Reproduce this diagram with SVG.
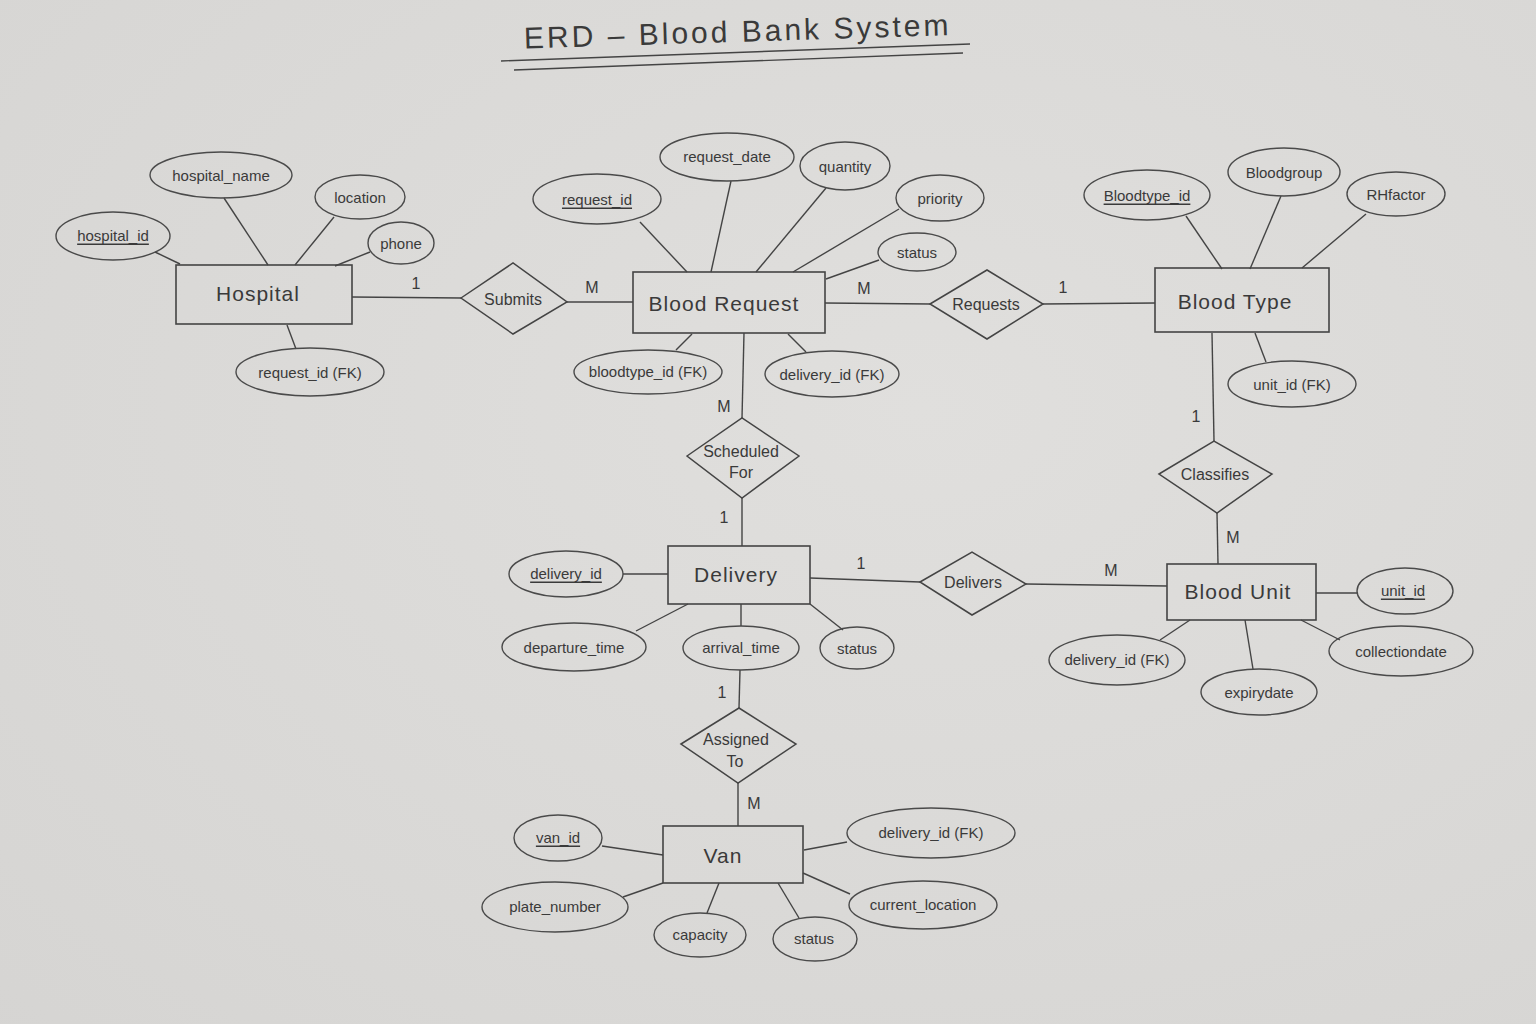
<svg xmlns="http://www.w3.org/2000/svg" width="1536" height="1024" viewBox="0 0 1536 1024">
<defs>
<style>
.bg{fill:#dcdbd9}
.ent{fill:none;stroke:#444;stroke-width:1.6}
.rel{fill:none;stroke:#444;stroke-width:1.5}
.att{fill:none;stroke:#4a4a4a;stroke-width:1.4}
.ln{stroke:#444;stroke-width:1.4;fill:none}
text{font-family:"Liberation Sans","DejaVu Sans",sans-serif;fill:#3a3a3a;text-anchor:middle;dominant-baseline:central}
.et{font-size:21px;letter-spacing:1px}
.rt{font-size:16px}
.at{font-size:15px}
.card{font-size:16px}
.pk{text-decoration:underline}
.title{font-size:30px;letter-spacing:3px;text-anchor:start}
</style>
<radialGradient id="paper" cx="0.6" cy="0.4" r="0.9">
<stop offset="0" stop-color="#e0dfdd"/>
<stop offset="1" stop-color="#d5d4d2"/>
</radialGradient>
</defs>
<rect width="1536" height="1024" fill="url(#paper)"/>

<g id="title">
<text class="title" x="524" y="38" transform="rotate(-1.8 524 38)">ERD – Blood Bank System</text>
<line class="ln" x1="501" y1="61" x2="970" y2="44"/>
<line class="ln" x1="514" y1="70" x2="963" y2="53"/>
</g>

<g id="connectors">
<!-- Hospital attrs -->
<line class="ln" x1="155" y1="252" x2="180" y2="264"/>
<line class="ln" x1="224" y1="198" x2="268" y2="265"/>
<line class="ln" x1="334" y1="217" x2="295" y2="265"/>
<line class="ln" x1="370" y1="252" x2="335" y2="266"/>
<line class="ln" x1="287" y1="325" x2="296" y2="349"/>
<!-- Hospital - Submits - Blood Request -->
<line class="ln" x1="352" y1="297" x2="461" y2="298"/>
<line class="ln" x1="567" y1="302" x2="633" y2="302"/>
<!-- Blood Request attrs -->
<line class="ln" x1="640" y1="222" x2="687" y2="272"/>
<line class="ln" x1="731" y1="181" x2="711" y2="272"/>
<line class="ln" x1="826" y1="188" x2="756" y2="272"/>
<line class="ln" x1="899" y1="209" x2="793" y2="272"/>
<line class="ln" x1="879" y1="260" x2="826" y2="279"/>
<line class="ln" x1="692" y1="334" x2="676" y2="350"/>
<line class="ln" x1="788" y1="334" x2="806" y2="352"/>
<!-- Blood Request - Requests - Blood Type -->
<line class="ln" x1="825" y1="303" x2="930" y2="304"/>
<line class="ln" x1="1043" y1="304" x2="1155" y2="303"/>
<!-- Blood Type attrs -->
<line class="ln" x1="1186" y1="216" x2="1222" y2="269"/>
<line class="ln" x1="1281" y1="196" x2="1250" y2="269"/>
<line class="ln" x1="1366" y1="214" x2="1302" y2="268"/>
<line class="ln" x1="1255" y1="333" x2="1266" y2="362"/>
<!-- Blood Type - Classifies - Blood Unit -->
<line class="ln" x1="1212" y1="333" x2="1214" y2="441"/>
<line class="ln" x1="1217" y1="513" x2="1218" y2="564"/>
<!-- Blood Unit attrs -->
<line class="ln" x1="1316" y1="593" x2="1357" y2="593"/>
<line class="ln" x1="1301" y1="620" x2="1340" y2="640"/>
<line class="ln" x1="1245" y1="620" x2="1253" y2="669"/>
<line class="ln" x1="1190" y1="620" x2="1160" y2="640"/>
<!-- Blood Request - Scheduled For - Delivery -->
<line class="ln" x1="744" y1="333" x2="742" y2="418"/>
<line class="ln" x1="742" y1="498" x2="742" y2="546"/>
<!-- Delivery - Delivers - Blood Unit -->
<line class="ln" x1="810" y1="578" x2="920" y2="582"/>
<line class="ln" x1="1026" y1="584" x2="1167" y2="586"/>
<!-- Delivery attrs -->
<line class="ln" x1="623" y1="574" x2="668" y2="574"/>
<line class="ln" x1="636" y1="631" x2="688" y2="604"/>
<line class="ln" x1="741" y1="604" x2="741" y2="626"/>
<line class="ln" x1="810" y1="604" x2="843" y2="630"/>
<!-- Delivery - Assigned To - Van -->
<line class="ln" x1="740" y1="670" x2="739" y2="708"/>
<line class="ln" x1="738" y1="783" x2="738" y2="826"/>
<!-- Van attrs -->
<line class="ln" x1="602" y1="846" x2="663" y2="855"/>
<line class="ln" x1="623" y1="897" x2="663" y2="883"/>
<line class="ln" x1="707" y1="913" x2="719" y2="883"/>
<line class="ln" x1="799" y1="918" x2="778" y2="883"/>
<line class="ln" x1="850" y1="894" x2="803" y2="873"/>
<line class="ln" x1="847" y1="842" x2="804" y2="850"/>
</g>

<g id="cardinalities">
<text class="card" x="416" y="283">1</text>
<text class="card" x="592" y="287">M</text>
<text class="card" x="864" y="288">M</text>
<text class="card" x="1063" y="287">1</text>
<text class="card" x="1196" y="416">1</text>
<text class="card" x="1233" y="537">M</text>
<text class="card" x="724" y="406">M</text>
<text class="card" x="724" y="517">1</text>
<text class="card" x="861" y="563">1</text>
<text class="card" x="1111" y="570">M</text>
<text class="card" x="722" y="692">1</text>
<text class="card" x="754" y="803">M</text>
</g>

<!-- Entities -->
<g id="hospital">
<rect class="ent" x="176" y="265" width="176" height="59"/>
<text class="et" x="258" y="293">Hospital</text>
</g>
<g id="blood-request">
<rect class="ent" x="633" y="272" width="192" height="61"/>
<text class="et" x="724" y="303">Blood  Request</text>
</g>
<g id="blood-type">
<rect class="ent" x="1155" y="268" width="174" height="64"/>
<text class="et" x="1235" y="301">Blood  Type</text>
</g>
<g id="delivery">
<rect class="ent" x="668" y="546" width="142" height="58"/>
<text class="et" x="736" y="574">Delivery</text>
</g>
<g id="blood-unit">
<rect class="ent" x="1167" y="564" width="149" height="56"/>
<text class="et" x="1238" y="591">Blood  Unit</text>
</g>
<g id="van">
<rect class="ent" x="663" y="826" width="140" height="57"/>
<text class="et" x="723" y="855">Van</text>
</g>

<!-- Relationships -->
<g id="submits">
<polygon class="rel" points="461,298 513,263 567,302 513,334"/>
<text class="rt" x="513" y="299">Submits</text>
</g>
<g id="requests">
<polygon class="rel" points="930,304 987,270 1043,304 987,339"/>
<text class="rt" x="986" y="304">Requests</text>
</g>
<g id="classifies">
<polygon class="rel" points="1159,474 1214,441 1272,474 1217,513"/>
<text class="rt" x="1215" y="474">Classifies</text>
</g>
<g id="scheduled-for">
<polygon class="rel" points="687,456 742,418 799,456 742,498"/>
<text class="rt" x="741" y="451">Scheduled</text>
<text class="rt" x="741" y="472">For</text>
</g>
<g id="delivers">
<polygon class="rel" points="920,582 972,552 1026,584 972,615"/>
<text class="rt" x="973" y="582">Delivers</text>
</g>
<g id="assigned-to">
<polygon class="rel" points="681,744 739,708 796,744 738,783"/>
<text class="rt" x="736" y="739">Assigned</text>
<text class="rt" x="735" y="761">To</text>
</g>

<!-- Attributes -->
<g id="attr-hospital_id"><ellipse class="att" cx="113" cy="236" rx="57" ry="24"/><text class="at pk" x="113" y="235">hospital_id</text></g>
<g id="attr-hospital_name"><ellipse class="att" cx="221" cy="175" rx="71" ry="23"/><text class="at" x="221" y="175">hospital_name</text></g>
<g id="attr-location"><ellipse class="att" cx="360" cy="197" rx="45" ry="22"/><text class="at" x="360" y="197">location</text></g>
<g id="attr-phone"><ellipse class="att" cx="401" cy="243" rx="33" ry="21"/><text class="at" x="401" y="243">phone</text></g>
<g id="attr-hosp-request_id-fk"><ellipse class="att" cx="310" cy="372" rx="74" ry="24"/><text class="at" x="310" y="372">request_id (FK)</text></g>

<g id="attr-request_id"><ellipse class="att" cx="597" cy="199" rx="64" ry="25"/><text class="at pk" x="597" y="199">request_id</text></g>
<g id="attr-request_date"><ellipse class="att" cx="727" cy="157" rx="67" ry="24"/><text class="at" x="727" y="156">request_date</text></g>
<g id="attr-quantity"><ellipse class="att" cx="845" cy="166" rx="45" ry="24"/><text class="at" x="845" y="166">quantity</text></g>
<g id="attr-priority"><ellipse class="att" cx="940" cy="198" rx="44" ry="23"/><text class="at" x="940" y="198">priority</text></g>
<g id="attr-br-status"><ellipse class="att" cx="917" cy="252" rx="39" ry="19"/><text class="at" x="917" y="252">status</text></g>
<g id="attr-br-bloodtype_id-fk"><ellipse class="att" cx="648" cy="372" rx="74" ry="22"/><text class="at" x="648" y="371">bloodtype_id (FK)</text></g>
<g id="attr-br-delivery_id-fk"><ellipse class="att" cx="832" cy="374" rx="67" ry="23"/><text class="at" x="832" y="374">delivery_id (FK)</text></g>

<g id="attr-bloodtype_id"><ellipse class="att" cx="1147" cy="195" rx="63" ry="25"/><text class="at pk" x="1147" y="195">Bloodtype_id</text></g>
<g id="attr-bloodgroup"><ellipse class="att" cx="1284" cy="172" rx="56" ry="24"/><text class="at" x="1284" y="172">Bloodgroup</text></g>
<g id="attr-rhfactor"><ellipse class="att" cx="1396" cy="194" rx="49" ry="22"/><text class="at" x="1396" y="194">RHfactor</text></g>
<g id="attr-bt-unit_id-fk"><ellipse class="att" cx="1292" cy="384" rx="64" ry="23"/><text class="at" x="1292" y="384">unit_id (FK)</text></g>

<g id="attr-unit_id"><ellipse class="att" cx="1405" cy="591" rx="48" ry="23"/><text class="at pk" x="1403" y="590">unit_id</text></g>
<g id="attr-collectiondate"><ellipse class="att" cx="1401" cy="651" rx="72" ry="25"/><text class="at" x="1401" y="651">collectiondate</text></g>
<g id="attr-expirydate"><ellipse class="att" cx="1259" cy="692" rx="58" ry="23"/><text class="at" x="1259" y="692">expirydate</text></g>
<g id="attr-bu-delivery_id-fk"><ellipse class="att" cx="1117" cy="660" rx="68" ry="25"/><text class="at" x="1117" y="659">delivery_id (FK)</text></g>

<g id="attr-delivery_id"><ellipse class="att" cx="566" cy="574" rx="57" ry="23"/><text class="at pk" x="566" y="573">delivery_id</text></g>
<g id="attr-departure_time"><ellipse class="att" cx="574" cy="647" rx="72" ry="24"/><text class="at" x="574" y="647">departure_time</text></g>
<g id="attr-arrival_time"><ellipse class="att" cx="741" cy="648" rx="58" ry="22"/><text class="at" x="741" y="647">arrival_time</text></g>
<g id="attr-del-status"><ellipse class="att" cx="857" cy="648" rx="37" ry="21"/><text class="at" x="857" y="648">status</text></g>

<g id="attr-van_id"><ellipse class="att" cx="558" cy="838" rx="44" ry="23"/><text class="at pk" x="558" y="837">van_id</text></g>
<g id="attr-plate_number"><ellipse class="att" cx="555" cy="907" rx="73" ry="25"/><text class="at" x="555" y="906">plate_number</text></g>
<g id="attr-capacity"><ellipse class="att" cx="700" cy="935" rx="46" ry="22"/><text class="at" x="700" y="934">capacity</text></g>
<g id="attr-van-status"><ellipse class="att" cx="815" cy="939" rx="42" ry="22"/><text class="at" x="814" y="938">status</text></g>
<g id="attr-current_location"><ellipse class="att" cx="923" cy="905" rx="74" ry="24"/><text class="at" x="923" y="904">current_location</text></g>
<g id="attr-van-delivery_id-fk"><ellipse class="att" cx="931" cy="833" rx="84" ry="25"/><text class="at" x="931" y="832">delivery_id (FK)</text></g>
</svg>
